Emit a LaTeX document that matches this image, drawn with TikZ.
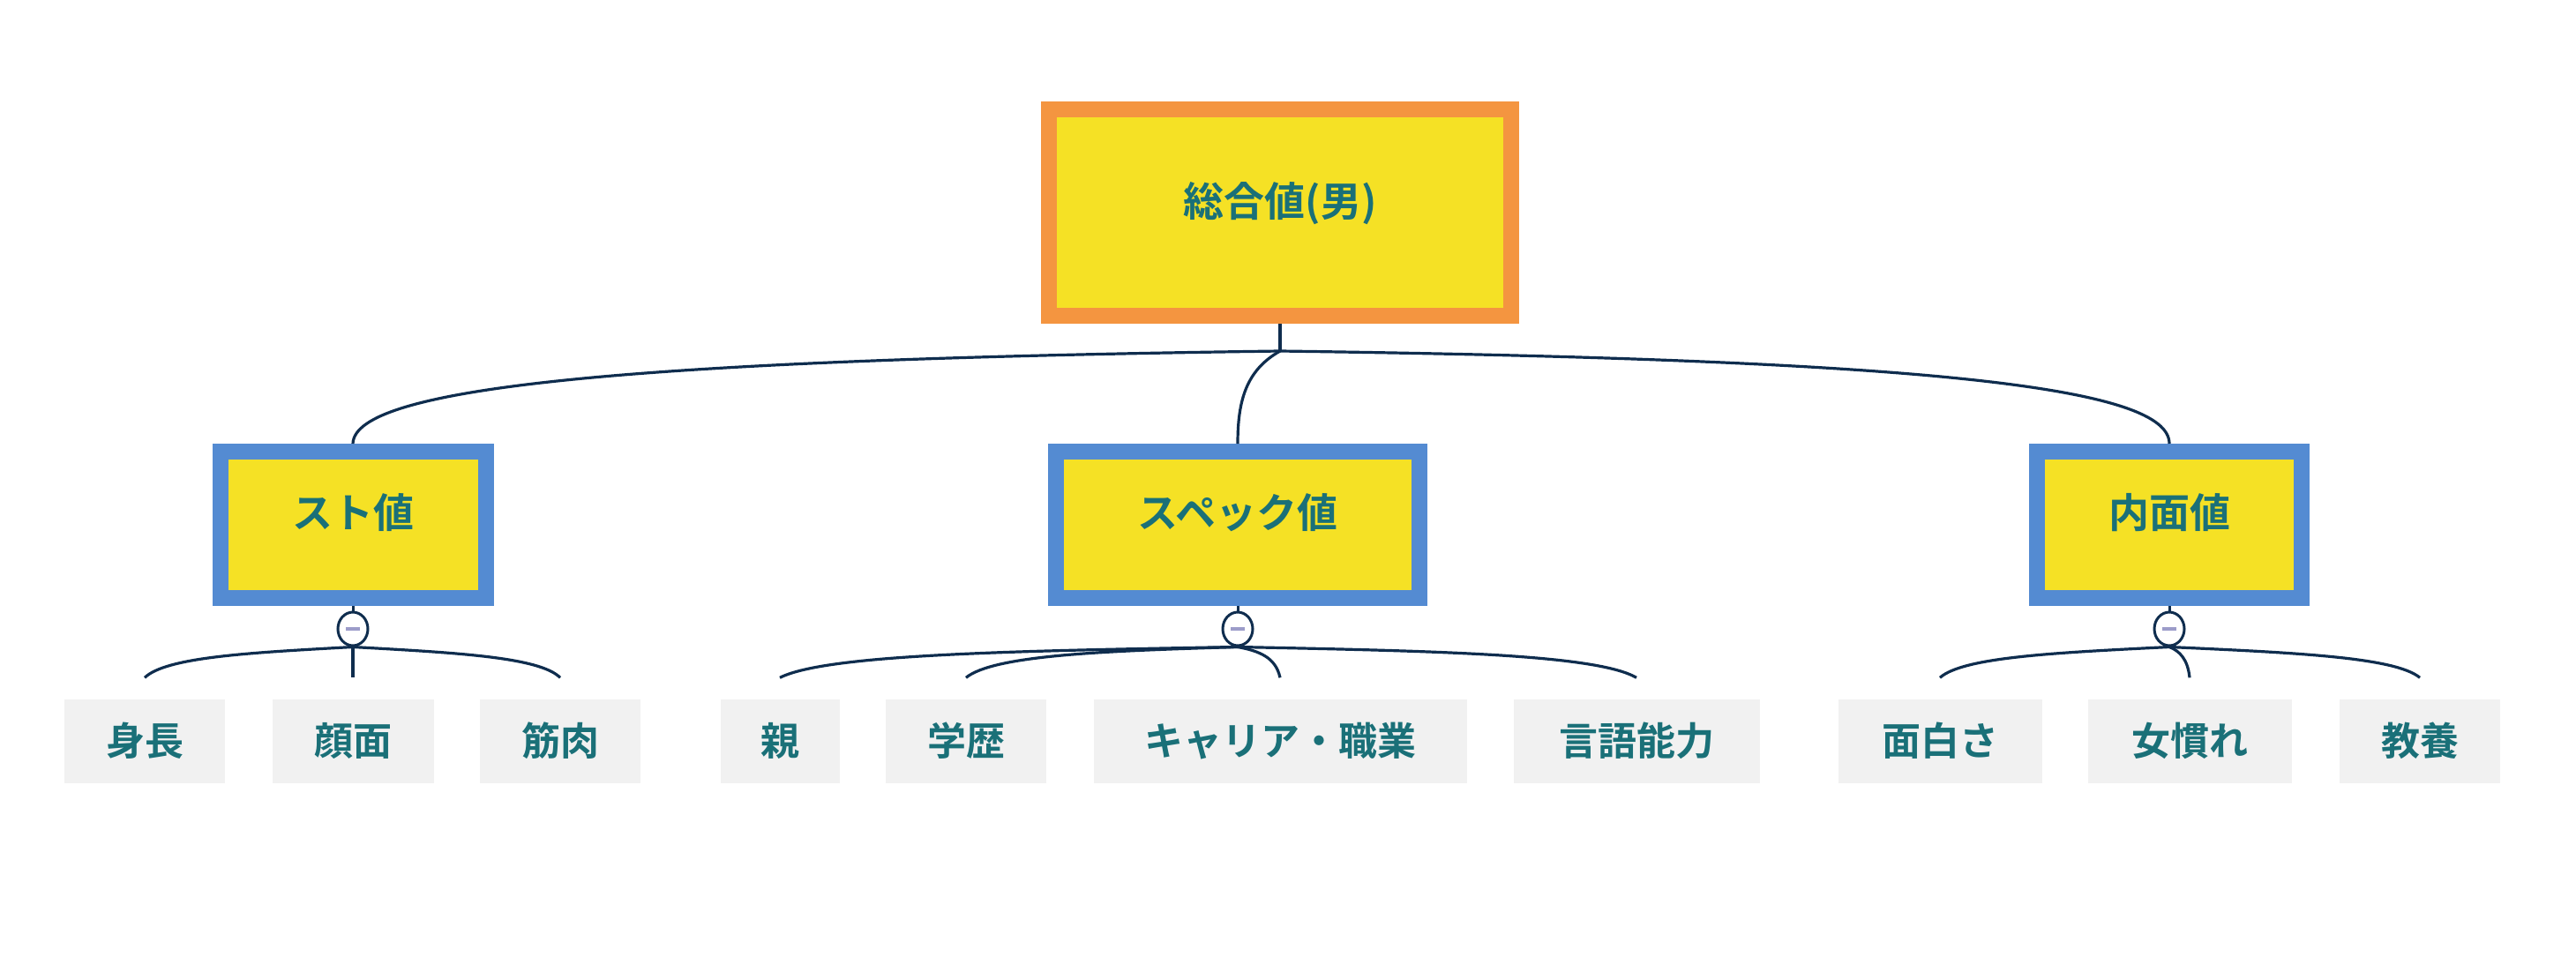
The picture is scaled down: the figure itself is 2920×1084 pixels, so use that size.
\documentclass[tikz,border=0pt]{standalone}
\usepackage{fontspec}
\setmainfont{Noto Sans CJK JP}[BoldFont={Noto Sans CJK JP Bold}]
\usetikzlibrary{calc,shapes.geometric}
\definecolor{txt}{HTML}{1A7078}
\definecolor{ylw}{HTML}{F5E125}
\definecolor{org}{HTML}{F49540}
\definecolor{blu}{HTML}{548BD2}
\definecolor{lnk}{HTML}{0F2D4E}
\definecolor{chl}{HTML}{F1F1F1}
\begin{document}
\begin{tikzpicture}[x=1pt,y=-1pt,
  box/.style={draw=#1,fill=ylw,line width=18pt,inner sep=0pt},
  lbl/.style={text=txt,font=\bfseries\fontsize{46}{50}\selectfont,inner sep=0pt},
  child/.style={fill=chl,inner sep=0pt,minimum height=95pt,text=txt,font=\bfseries\fontsize{44}{48}\selectfont},
  lk/.style={draw=lnk,line width=3.2pt},
  tog/.style={ellipse,draw=lnk,line width=3pt,fill=white,minimum width=34pt,minimum height=38pt,inner sep=0pt}]
\useasboundingbox (0,0) rectangle (2920,1084);
% root
\node[box=org,minimum width=524pt,minimum height=234pt] (root) at (1451,241) {};
\node[lbl] (roott) at (1451,231) {総合値(男)};
\coordinate (j) at (1451,398);
% level 2
\node[box=blu,minimum width=301pt,minimum height=166pt] (st) at (400,595) {};
\node[lbl] (stt) at (400,581) {スト値};
\node[box=blu,minimum width=412pt,minimum height=166pt] (sp) at (1403,595) {};
\node[lbl] (spt) at (1403,581) {スペック値};
\node[box=blu,minimum width=300pt,minimum height=166pt] (nm) at (2459,595) {};
\node[lbl] (nmt) at (2459,581) {内面値};
\draw[lk] (root.south) -- (j);
\draw[lk] (j) .. controls (700,408) and (402,440) .. (st.north);
\draw[lk] (j) .. controls (1412,420) and (1403,455) .. (sp.north);
\draw[lk] (j) .. controls (2200,408) and (2459,440) .. (nm.north);
% children
\node[child,minimum width=182pt] (a1) at (164,840) {身長};
\node[child,minimum width=183pt] (a2) at (400,840) {顔面};
\node[child,minimum width=182pt] (a3) at (635,840) {筋肉};
\node[child,minimum width=135pt] (b1) at (884,840) {親};
\node[child,minimum width=182pt] (b2) at (1095,840) {学歴};
\node[child,minimum width=423pt] (b3) at (1451,840) {キャリア・職業};
\node[child,minimum width=279pt] (b4) at (1855,840) {言語能力};
\node[child,minimum width=231pt] (c1) at (2199,840) {面白さ};
\node[child,minimum width=231pt] (c2) at (2482,840) {女慣れ};
\node[child,minimum width=182pt] (c3) at (2743,840) {教養};
% toggles
\foreach \n/\x in {ta/400,tb/1403,tc/2459}{
  \node[tog] (\n) at (\x,713) {};
  \draw[draw=lnk,line width=3pt] (\x,687) -- (\n.north);
  \draw[draw=blue!30!gray!60,line width=4pt] ($(\n.center)+(-8,0)$) -- ($(\n.center)+(8,0)$);
}
% fans
\draw[lk] (ta.south) .. controls (282,740) and (188,745) .. ($(a1.north)+(0,-24)$);
\draw[lk] (ta.south) -- ($(a2.north)+(0,-24)$);
\draw[lk] (ta.south) .. controls (517,740) and (612,745) .. ($(a3.north)+(0,-24)$);
\draw[lk] (tb.south) .. controls (1143,738) and (936,742) .. ($(b1.north)+(0,-24)$);
\draw[lk] (tb.south) .. controls (1249,738) and (1126,743) .. ($(b2.north)+(0,-24)$);
\draw[lk] (tb.south) .. controls (1427,738) and (1446,745) .. ($(b3.north)+(0,-24)$);
\draw[lk] (tb.south) .. controls (1629,738) and (1810,742) .. ($(b4.north)+(0,-24)$);
\draw[lk] (tc.south) .. controls (2329,740) and (2225,745) .. ($(c1.north)+(0,-24)$);
\draw[lk] (tc.south) .. controls (2471,738) and (2480,748) .. ($(c2.north)+(0,-24)$);
\draw[lk] (tc.south) .. controls (2601,740) and (2715,745) .. ($(c3.north)+(0,-24)$);
\end{tikzpicture}
\end{document}
